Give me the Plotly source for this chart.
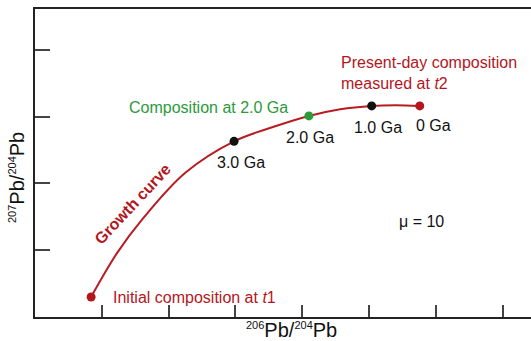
import plotly.graph_objects as go

# ---- data (in axis units) ----
curve_x = [0.84, 1.23, 1.62, 2.25, 2.98, 3.55, 4.10, 4.57, 5.04, 5.40, 5.76]
curve_y = [0.30, 0.96, 1.48, 2.16, 2.63, 2.84, 3.01, 3.11, 3.16, 3.17, 3.16]

point_names = ["Initial (t1)", "3.0 Ga", "2.0 Ga", "1.0 Ga", "0 Ga"]
point_x = [0.84, 2.98, 4.10, 5.04, 5.76]
point_y = [0.30, 2.63, 3.01, 3.16, 3.16]

age_labels = ["3.0 Ga", "2.0 Ga", "1.0 Ga", "0 Ga"]
x_ticks = [1, 2, 3, 4, 5, 6, 7]
y_ticks = [1, 2, 3, 4]

RED = "#b3161d"
GREEN = "#2c9a3a"
BLACK = "#111111"
point_colors = [RED, BLACK, GREEN, BLACK, RED]

W, H = 531, 341
L, R, T, B = 35, 0, 9, 24
UNIT = 66.8
PW, PH = W - L - R, H - T - B
XMAX = PW / UNIT
YMAX = PH / UNIT


def px_x(p):
    return (p - L) / UNIT


def px_y(p):
    return (H - B - p) / UNIT


FONT = "Liberation Sans, Arial, sans-serif"

fig = go.Figure()
fig.add_trace(go.Scatter(x=curve_x, y=curve_y, mode="lines",
                         line=dict(color="#b81c22", width=2, shape="spline"),
                         hoverinfo="skip", showlegend=False))
fig.add_trace(go.Scatter(x=point_x, y=point_y, mode="markers", text=point_names,
                         marker=dict(color=point_colors, size=9),
                         showlegend=False))

ann = []


def add(text, xp, yp, color=BLACK, size=16, xanchor="left", yanchor="middle", **kw):
    ann.append(dict(text=text, x=px_x(xp), y=px_y(yp), xref="x", yref="y",
                    showarrow=False, xanchor=xanchor, yanchor=yanchor,
                    font=dict(family=FONT, size=size, color=color), **kw))


add("Present-day composition<br>measured at <i>t</i>2", 339, 73, RED, align="left")
add("Composition at 2.0 Ga", 127, 107, GREEN)
add(age_labels[0], 241, 162, xanchor="center")
add(age_labels[1], 310, 137, xanchor="center")
add(age_labels[2], 378, 127, xanchor="center")
add(age_labels[3], 433, 125, xanchor="center")
add("Initial composition at <i>t</i>1", 111, 297, RED)
add("\u03bc = 10", 421, 221, xanchor="center")
add("<b>Growth curve</b>", 132, 204, RED, xanchor="center", textangle=-47)

sup = '<sup><span style="font-size:11px">{}</span></sup>'
ann.append(dict(text=sup.format("206") + "Pb/" + sup.format("204") + "Pb",
                x=(291 - L) / PW, y=(H - B - 330) / PH, xref="paper", yref="paper",
                yanchor="middle", xanchor="center", showarrow=False,
                font=dict(family=FONT, size=20, color=BLACK)))
ann.append(dict(text=sup.format("207") + "Pb/" + sup.format("204") + "Pb",
                x=(17 - L) / PW, y=(H - B - 178) / PH, xref="paper", yref="paper",
                yanchor="middle", xanchor="center", showarrow=False, textangle=-90,
                font=dict(family=FONT, size=20, color=BLACK)))

fig.update_layout(
    width=W, height=H, margin=dict(l=L, r=R, t=T, b=B),
    paper_bgcolor="white", plot_bgcolor="white",
    annotations=ann, hovermode=False,
    xaxis=dict(range=[0, XMAX], showgrid=False, zeroline=False,
               tickvals=x_ticks, showticklabels=False, ticks="inside",
               ticklen=12, tickwidth=1.5, tickcolor="#444",
               showline=True, linecolor="#222", linewidth=2, mirror=True),
    yaxis=dict(range=[0, YMAX], showgrid=False, zeroline=False,
               tickvals=y_ticks, showticklabels=False, ticks="inside",
               ticklen=15, tickwidth=1.5, tickcolor="#444",
               showline=True, linecolor="#222", linewidth=2),
)
fig.write_html("out.html", config={"displayModeBar": False},
               post_script="document.body.style.margin='0';document.body.style.overflow='hidden';")
